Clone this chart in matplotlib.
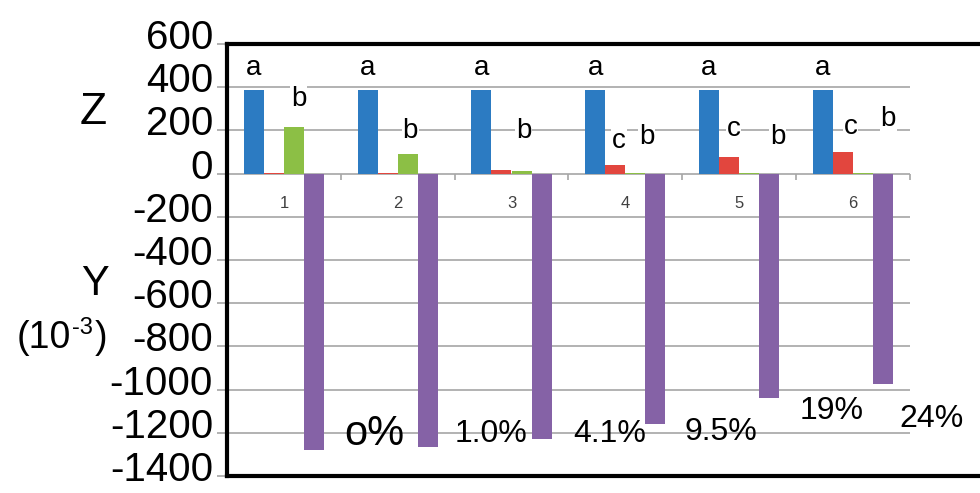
import matplotlib.pyplot as plt
import matplotlib.transforms as mtransforms
import numpy as np

plt.rcParams["font.family"] = ["Liberation Sans", "DejaVu Sans"]

# data
categories = ["1", "2", "3", "4", "5", "6"]
blue = [385, 385, 385, 385, 385, 385]
red = [5, 5, 15, 38, 78, 100]
green = [217, 93, 12, 4, 4, 4]
purple = [-1281, -1268, -1230, -1160, -1037, -975]
percents = ["o%", "1.0%", "4.1%", "9.5%", "19%", "24%"]
yticks = [600, 400, 200, 0, -200, -400, -600, -800, -1000, -1200, -1400]

# significance letters: (category, letter)
letters_a = ["a"] * 6
letters_other = [(0, "b"), (1, "b"), (2, "b"), (3, "c"), (3, "b"),
                 (4, "c"), (4, "b"), (5, "c"), (5, "b")]

# layout of the annotations (x offset from category centre, y in data units)
other_pos = [(0.13, 347), (0.11, 199), (0.105, 199), (-0.057, 153), (0.19, 171),
             (-0.05, 208), (0.34, 171), (-0.02, 218), (0.31, 255)]
pct_pos = [(-0.208, -1204), (-0.18, -1204), (-0.134, -1204), (-0.16, -1194),
           (-0.19, -1097), (-0.305, -1134)]

colors = ["#2C7BC2", "#E2463E", "#8CBF45", "#8562A6"]
grid_c = "#A6A6A6"

fig = plt.figure(figsize=(9.8, 4.93), dpi=100)
ax = fig.add_axes([227 / 980, 17 / 493, 763 / 980, 432 / 493])

x = np.arange(len(categories))
w = 0.176
for i, (vals, c) in enumerate(zip([blue, red, green, purple], colors)):
    ax.bar(x + (i - 1.5) * w, vals, w, color=c, zorder=3)

ax.set_xlim(-0.5, -0.5 + 763 / 113.8)
ax.set_ylim(-1400, 600)

# gridlines only across the category area, as in the original
ax.hlines([t for t in yticks if t not in (0, 600)], -0.5, 5.5,
          color=grid_c, lw=1.2, zorder=1)
ax.hlines(0, -0.5, 5.5, color=grid_c, lw=1.2, zorder=2)
ax.vlines(np.arange(7) - 0.5, -30, 0, color=grid_c, lw=1.2, zorder=2)

ax.set_xticks([])
ax.set_yticks(yticks)
ax.set_yticklabels([str(t) for t in yticks], fontsize=29)
ax.tick_params(axis="y", length=7, width=1.2, color=grid_c, pad=3)
offset = mtransforms.ScaledTranslation(0, 10 / 100, fig.dpi_scale_trans)
for lab in ax.get_yticklabels():
    lab.set_transform(lab.get_transform() + offset)

for s in ["left", "top", "bottom", "right"]:
    ax.spines[s].set_linewidth(3)
    ax.spines[s].set_color("black")

for i, cat in enumerate(categories):
    ax.text(i, -139, cat, fontsize=12, color="#404040", ha="center", va="center")

box = dict(facecolor="white", edgecolor="none", pad=0.5)
for i, lt in enumerate(letters_a):
    ax.text(i - 1.5 * w, 490, lt, fontsize=20, ha="center", va="center",
            bbox=box, zorder=4)
for (i, lt), (dx, yy) in zip(letters_other, other_pos):
    ax.text(i + dx, yy, lt, fontsize=20, ha="center", va="center",
            bbox=box, zorder=4)

for i, (p, (dx, yy)) in enumerate(zip(percents, pct_pos)):
    ax.text(i + 1 + dx, yy, p, fontsize=30 if i == 0 else 23,
            ha="center", va="center", zorder=4)

fig.text(93 / 980, 1 - 112 / 493, "Z", fontsize=32, ha="center", va="center")
fig.text(95 / 980, 1 - 284 / 493, "Y", fontsize=30, ha="center", va="center")
fig.text(71 / 980, 1 - 338 / 493, "(10", fontsize=27, ha="right", va="center")
fig.text(72 / 980, 1 - 328 / 493, "-3", fontsize=17, ha="left", va="center")
fig.text(95 / 980, 1 - 338 / 493, ")", fontsize=27, ha="left", va="center")

fig.savefig("out.png", dpi=100)
